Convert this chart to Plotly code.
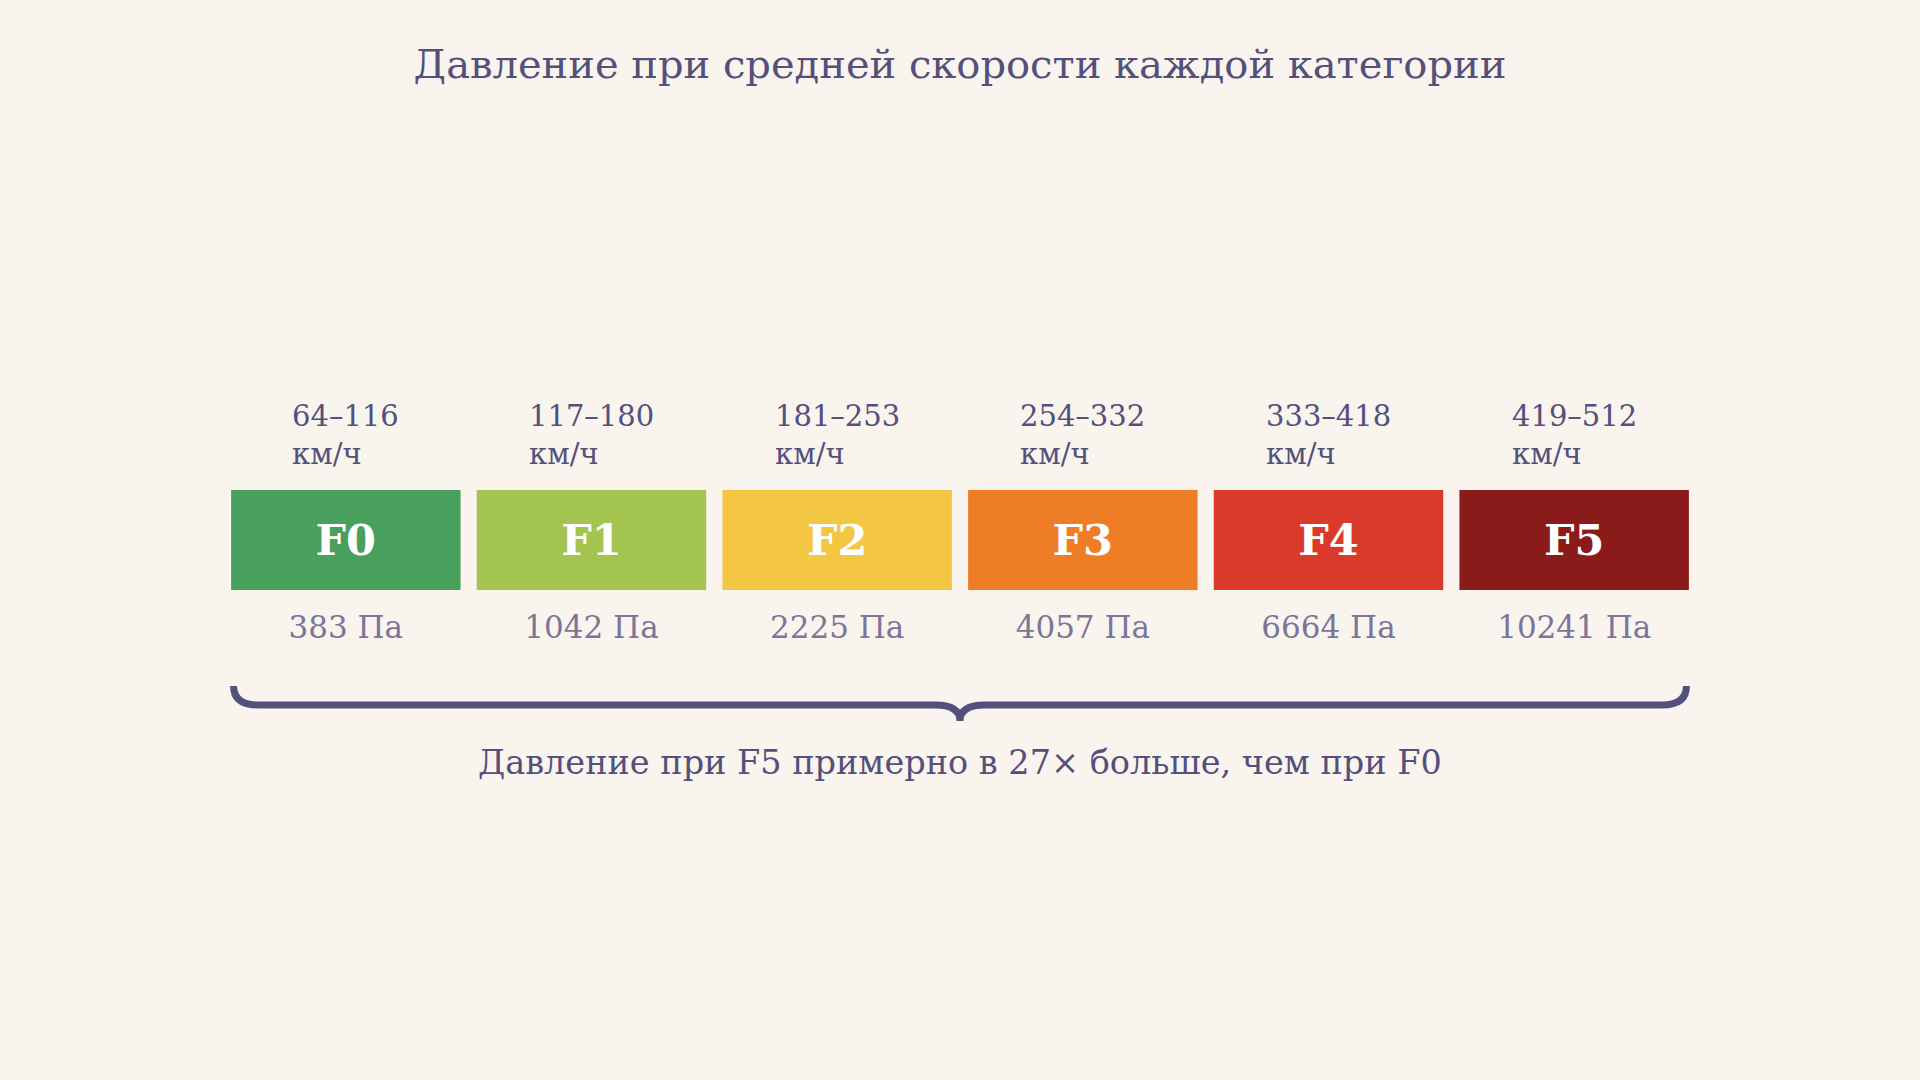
import plotly.graph_objects as go

# data
categories = ['F0', 'F1', 'F2', 'F3', 'F4', 'F5']
speed_ranges = ['64–116', '117–180', '181–253', '254–332', '333–418', '419–512']
pressures = [383, 1042, 2225, 4057, 6664, 10241]
box_heights = [1, 1, 1, 1, 1, 1]
colors = ['#48a05c', '#a4c450', '#f3c643', '#ef7d25', '#da3a2b', '#8b1a1a']

title_text = 'Давление при средней скорости каждой категории'
caption_text = 'Давление при F5 примерно в 27× больше, чем при F0'

bg = '#faf4ee'
ink = '#54507c'
soft_ink = '#7b7699'
font_family = 'DejaVu Serif'

x_pos = list(range(len(categories)))

fig = go.Figure()

# colored boxes
fig.add_trace(go.Bar(
    x=x_pos,
    y=box_heights,
    marker=dict(color=colors, line=dict(width=0)),
    width=0.934,
    hoverinfo='skip',
))

# category labels inside the boxes
fig.add_trace(go.Scatter(
    x=x_pos,
    y=[h * 0.46 for h in box_heights],
    mode='text',
    text=[f'<b>{c}</b>' for c in categories],
    textposition='middle center',
    textfont=dict(family=font_family, size=43, color='white'),
    hoverinfo='skip',
))

# pressure labels under the boxes
fig.add_trace(go.Scatter(
    x=x_pos,
    y=[-0.40] * len(categories),
    mode='text',
    text=[f'{p} Па' for p in pressures],
    textposition='middle center',
    textfont=dict(family=font_family, size=31, color=soft_ink),
    hoverinfo='skip',
))

# speed ranges above the boxes
annotations = []
for i, s in enumerate(speed_ranges):
    annotations.append(dict(
        x=x_pos[i], y=1.55, xref='x', yref='y',
        text=f'{s}<br>км/ч', showarrow=False, align='left',
        xanchor='center', yanchor='middle',
        font=dict(family=font_family, size=29, color=ink),
    ))

annotations.append(dict(
    x=0.5, y=-1.72, xref='paper', yref='y',
    text=caption_text, showarrow=False,
    xanchor='center', yanchor='middle',
    font=dict(family=font_family, size=33.5, color=ink),
))

# curly brace under the row
x0, x1 = -0.457, len(categories) - 1 + 0.457
xm = (x0 + x1) / 2
yl, ye, yt = -1.15, -0.96, -1.31
brace = (f'M {x0},{ye} Q {x0},{yl} {x0 + 0.1},{yl} '
         f'L {xm - 0.1},{yl} Q {xm},{yl} {xm},{yt} '
         f'Q {xm},{yl} {xm + 0.1},{yl} '
         f'L {x1 - 0.1},{yl} Q {x1},{yl} {x1},{ye}')

fig.update_layout(
    width=1920, height=1080,
    paper_bgcolor=bg, plot_bgcolor=bg,
    margin=dict(l=223, r=223, t=0, b=0),
    showlegend=False,
    title=dict(text=title_text, x=0.5, xanchor='center', y=1 - 64 / 1080,
               yanchor='middle',
               font=dict(family=font_family, size=40, color=ink)),
    xaxis=dict(range=[-0.5, len(categories) - 0.5], visible=False),
    yaxis=dict(range=[-4.9, 5.9], visible=False),
    annotations=annotations,
    shapes=[dict(type='path', path=brace, xref='x', yref='y',
                 line=dict(color=ink, width=7))],
)

fig.write_html('out.html',
               config={'displayModeBar': False},
               post_script="document.body.style.margin='0';"
                           "document.body.style.background='#faf4ee';")
